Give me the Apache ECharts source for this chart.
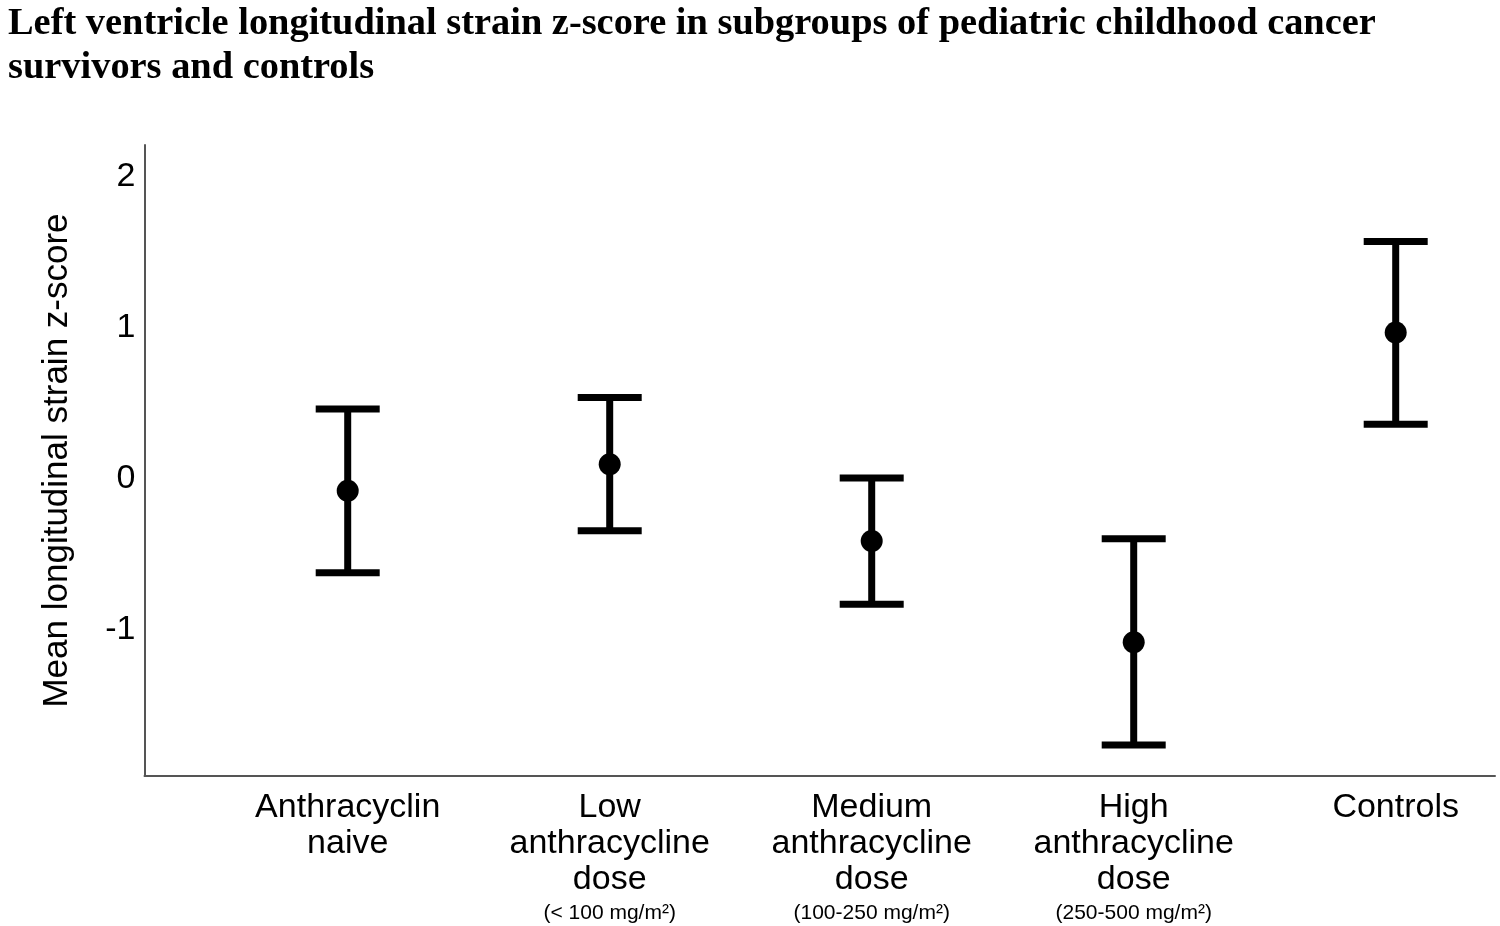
<!DOCTYPE html>
<html>
<head>
<meta charset="utf-8">
<script src="https://cdn.jsdelivr.net/npm/echarts@6/dist/echarts.min.js"></script>
<style>
html,body{margin:0;padding:0;background:#fff;}
#chart{width:1500px;height:926px;}
</style>
</head>
<body>
<div id="chart"></div>
<script>
const titleText = "Left ventricle longitudinal strain z-score in subgroups of pediatric childhood cancer\nsurvivors and controls";
const yAxisName = "Mean longitudinal strain z-score";
const categories = ["Anthracyclin\nnaive", "Low\nanthracycline\ndose", "Medium\nanthracycline\ndose", "High\nanthracycline\ndose", "Controls"];
const doseNotes = ["", "(< 100 mg/m²)", "(100-250 mg/m²)", "(250-500 mg/m²)", ""];
const means = [-0.079, 0.097, -0.411, -1.081, 0.969];
const lowerCI = [-0.621, -0.344, -0.830, -1.762, 0.362];
const upperCI = [0.462, 0.538, 0.005, -0.397, 1.572];
const yTicks = [-1, 0, 1, 2];

const chart = echarts.init(document.getElementById('chart'));
const idx = categories.map((c, i) => i);
const errData = idx.map(i => [i, lowerCI[i], upperCI[i]]);
const meanData = idx.map(i => [i, means[i]]);

const option = {
  backgroundColor: '#fff',
  animation: false,
  title: {
    text: titleText,
    left: 3,
    top: -3,
    textStyle: {
      fontFamily: '"Liberation Serif", "Times New Roman", serif',
      fontWeight: 'bold',
      fontSize: 38.4,
      lineHeight: 44,
      color: '#000'
    }
  },
  grid: { left: 144.5, right: 5, top: 145, bottom: 150 },
  xAxis: {
    type: 'value',
    min: -0.7756,
    max: 4.379,
    splitLine: { show: false },
    axisLine: { show: true, onZero: false, lineStyle: { color: '#555', width: 2 } },
    axisTick: { show: false },
    axisLabel: {
      customValues: idx,
      margin: 14,
      formatter: function (v) {
        const i = Math.round(v);
        const lines = categories[i].split('\n').map(s => '{a|' + s + '}');
        if (doseNotes[i]) lines.push('{b|' + doseNotes[i] + '}');
        return lines.join('\n');
      },
      rich: {
        a: { fontFamily: '"Liberation Sans", Arial, sans-serif', fontSize: 34, lineHeight: 36, color: '#000', align: 'center' },
        b: { fontFamily: '"Liberation Sans", Arial, sans-serif', fontSize: 21, lineHeight: 30, color: '#000', align: 'center' }
      }
    }
  },
  yAxis: {
    type: 'value',
    min: -1.967,
    max: 2.21,
    name: yAxisName,
    nameLocation: 'middle',
    nameGap: 70,
    nameTextStyle: { fontFamily: '"Liberation Sans", Arial, sans-serif', fontSize: 35, color: '#000' },
    splitLine: { show: false },
    axisLine: { show: true, onZero: false, lineStyle: { color: '#555', width: 2 } },
    axisTick: { show: false },
    axisLabel: {
      customValues: yTicks,
      margin: 9,
      padding: [5, 0, 0, 0],
      fontFamily: '"Liberation Sans", Arial, sans-serif',
      fontSize: 34,
      color: '#000'
    }
  },
  series: [
    {
      type: 'custom',
      data: errData,
      renderItem: function (params, api) {
        const x = api.value(0);
        const lo = api.coord([x, api.value(1)]);
        const hi = api.coord([x, api.value(2)]);
        const hw = 32;
        const style = { stroke: '#000', lineWidth: 7, lineCap: 'butt' };
        return {
          type: 'group',
          children: [
            { type: 'line', shape: { x1: lo[0], y1: lo[1], x2: hi[0], y2: hi[1] }, style: style },
            { type: 'line', shape: { x1: hi[0] - hw, y1: hi[1], x2: hi[0] + hw, y2: hi[1] }, style: style },
            { type: 'line', shape: { x1: lo[0] - hw, y1: lo[1], x2: lo[0] + hw, y2: lo[1] }, style: style }
          ]
        };
      },
      z: 2
    },
    {
      type: 'scatter',
      data: meanData,
      symbol: 'circle',
      symbolSize: 22,
      itemStyle: { color: '#000', opacity: 1 },
      z: 3
    }
  ]
};
chart.setOption(option);
</script>
</body>
</html>
